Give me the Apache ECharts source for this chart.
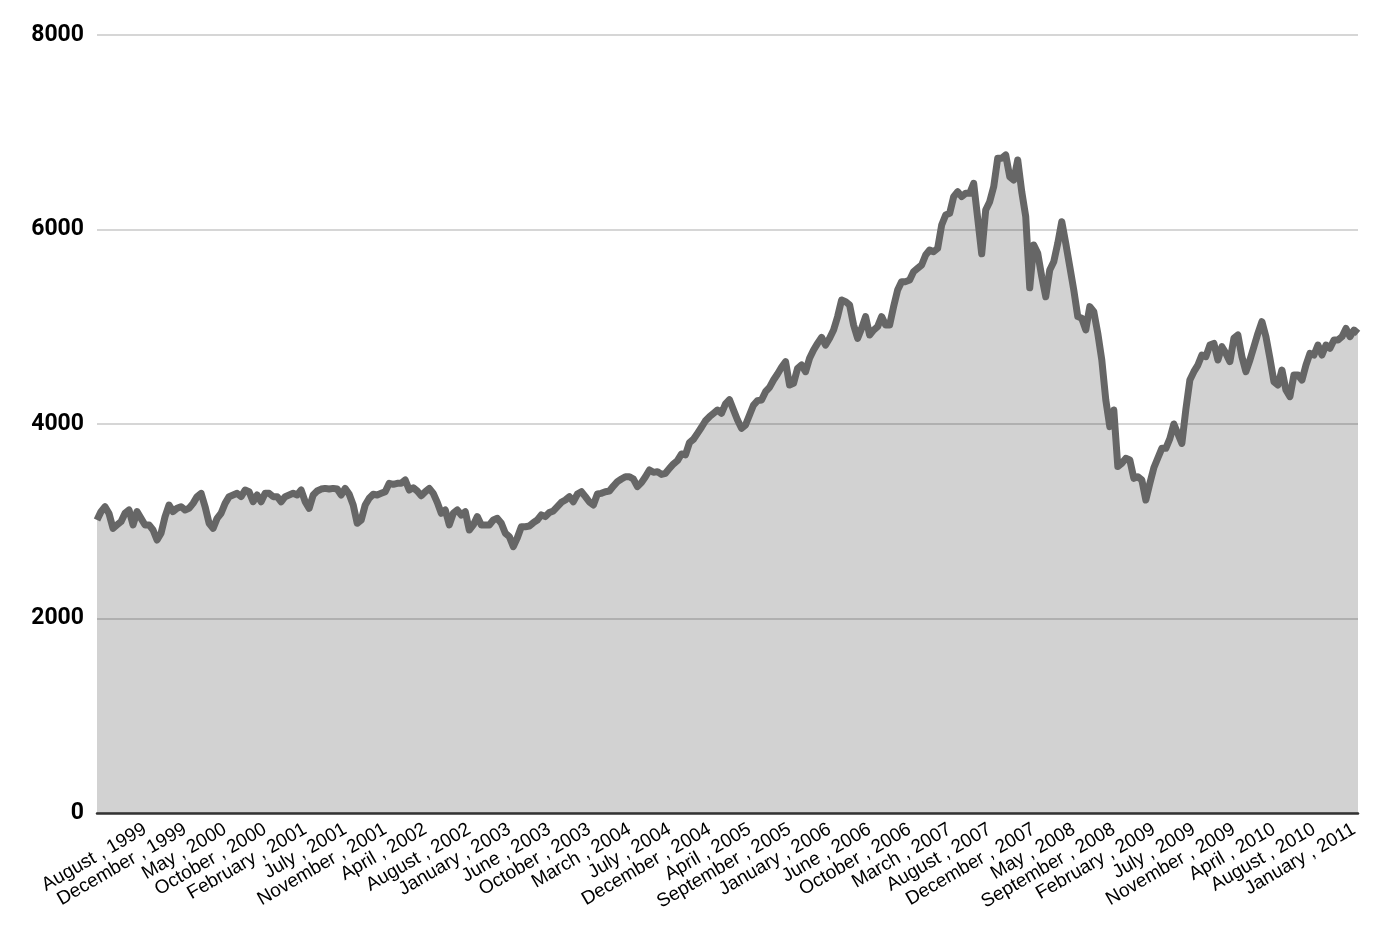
<!DOCTYPE html>
<html><head><meta charset="utf-8">
<script src="https://cdn.jsdelivr.net/npm/echarts@6/dist/echarts.min.js"></script>
<style>html,body{margin:0;padding:0;background:#fff}#c{width:1384px;height:942px}</style>
</head><body><div id="c"></div>
<script>
// Index level, sampled roughly every two weeks (Aug 1999 – Feb 2011)
const values = [
3013,3099,3150,3080,2927,2962,2996,3082,3116,2962,3099,3030,2962,2962,2910,2807,2876,3048,3167,3099,
3133,3150,3116,3133,3184,3253,3287,3150,2979,2927,3030,3082,3184,3253,3270,3287,3253,3321,3304,3201,
3270,3201,3287,3287,3253,3253,3201,3253,3270,3287,3270,3321,3201,3133,3270,3311,3331,3338,3331,3338,
3331,3270,3338,3277,3167,2979,3013,3167,3236,3277,3270,3287,3304,3390,3380,3390,3390,3424,3321,3345,
3311,3263,3304,3338,3287,3194,3082,3116,2962,3082,3116,3065,3099,2910,2962,3048,2962,2962,2962,3013,
3030,2979,2876,2842,2739,2830,2944,2944,2951,2985,3013,3065,3048,3089,3106,3150,3195,3219,3253,3201,
3280,3304,3253,3198,3167,3280,3287,3304,3311,3362,3407,3434,3458,3458,3434,3356,3397,3458,3527,3503,
3510,3482,3493,3544,3589,3623,3692,3682,3808,3843,3904,3966,4034,4075,4110,4144,4110,4206,4250,4144,
4041,3956,3990,4092,4195,4240,4247,4332,4377,4452,4514,4583,4641,4401,4418,4572,4606,4538,4675,4761,
4829,4891,4812,4881,4966,5104,5275,5258,5224,5018,4881,4983,5104,4915,4966,5001,5104,5018,5018,5207,
5378,5464,5464,5481,5567,5601,5635,5738,5789,5772,5806,6046,6149,6166,6338,6389,6338,6372,6372,6475,
6115,5750,6200,6286,6440,6732,6732,6766,6543,6509,6715,6389,6132,5400,5841,5755,5515,5309,5584,5669,
5858,6080,5858,5618,5378,5104,5087,4967,5207,5155,4932,4658,4247,3973,4144,3562,3596,3647,3630,3441,
3458,3424,3219,3390,3550,3650,3750,3750,3850,4000,3900,3800,4150,4452,4538,4606,4709,4692,4812,4829,
4658,4795,4726,4641,4881,4915,4692,4538,4658,4795,4932,5052,4898,4675,4435,4401,4555,4349,4281,4504,
4504,4452,4606,4726,4709,4812,4709,4812,4778,4864,4864,4898,4983,4898,4966,4932
];
const tickLabels = [
"August , 1999","December , 1999","May , 2000","October , 2000","February , 2001","July , 2001",
"November , 2001","April , 2002","August , 2002","January , 2003","June , 2003","October , 2003",
"March , 2004","July , 2004","December , 2004","April , 2005","September , 2005","January , 2006",
"June , 2006","October , 2006","March , 2007","August , 2007","December , 2007","May , 2008",
"September , 2008","February , 2009","July , 2009","November , 2009","April , 2010","August , 2010",
"January , 2011"
];
const yTicks = [0, 2000, 4000, 6000, 8000];
const firstLabelIndex = 12, labelStep = 10.07;

const labelAt = {};
tickLabels.forEach((t, k) => { labelAt[Math.round(firstLabelIndex + k * labelStep)] = t; });
const categories = values.map((_, i) => String(i));

const chart = echarts.init(document.getElementById('c'), null, {renderer: 'canvas'});
chart.setOption({
  animation: false,
  backgroundColor: '#ffffff',
  grid: {left: 97, right: 26, top: 35, bottom: 129, containLabel: false},
  xAxis: {
    type: 'category',
    data: categories,
    boundaryGap: false,
    z: 5,
    axisLine: {show: true, lineStyle: {color: '#333333', width: 2.5}},
    axisTick: {show: false},
    splitLine: {show: false},
    axisLabel: {
      rotate: 30,
      margin: 15,
      color: '#000000',
      fontFamily: 'Liberation Sans, Arial, sans-serif',
      fontSize: 19,
      interval: (idx) => labelAt[idx] !== undefined,
      formatter: (v, idx) => labelAt[idx] || ''
    }
  },
  yAxis: {
    type: 'value',
    min: yTicks[0], max: yTicks[yTicks.length - 1], interval: yTicks[1] - yTicks[0],
    axisLine: {show: false},
    axisTick: {show: false},
    splitLine: {show: true, lineStyle: {color: '#c8c8c8', width: 1.5}},
    axisLabel: {
      margin: 13,
      color: '#000000',
      fontFamily: 'Roboto, sans-serif',
      fontWeight: 'bold',
      fontSize: 23,
      formatter: (v) => String(v)
    }
  },
  series: [{
    type: 'line',
    data: values,
    symbol: 'none',
    smooth: false,
    lineStyle: {color: '#666666', width: 7, join: 'round'},
    areaStyle: {color: 'rgba(0,0,0,0.175)', opacity: 1}
  }]
});
</script>
</body></html>
